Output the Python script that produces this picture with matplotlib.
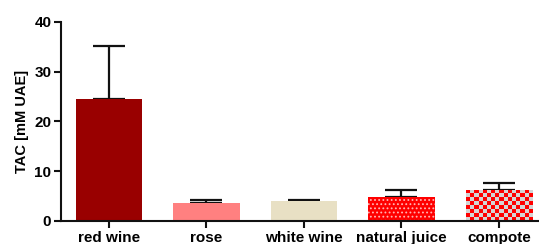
import matplotlib
matplotlib.use("Agg")
import matplotlib.pyplot as plt
import numpy as np

categories = ["red wine", "rose", "white wine", "natural juice", "compote"]
tac_mean = [24.6, 3.55, 4.0, 4.9, 6.25]
tac_err = [10.5, 0.6, 0.3, 1.3, 1.35]
colors = ["#990000", "#ff8080", "#e8e0c4", "#ff0000", "#ff0000"]

plt.rcParams["font.family"] = ["Liberation Sans", "DejaVu Sans"]
plt.rcParams["hatch.linewidth"] = 0.8

fig = plt.figure(figsize=(5.39, 2.44), dpi=100)
ax = fig.add_axes([61 / 539, 23 / 244, 1 - 61 / 539, 199 / 244])

x = np.arange(len(categories))
bars = ax.bar(x, tac_mean, width=0.68, color=colors, linewidth=0, zorder=2)
ax.errorbar(x, tac_mean, yerr=[np.zeros(len(x)), tac_err], fmt="none",
            ecolor="#111", elinewidth=1.6, capsize=11.5, capthick=1.6, zorder=1)

# natural juice: red with small pale dots
bars[3].set_hatch("....")
bars[3].set_edgecolor("#ffb4b4")

# compote: red / grey checkerboard clipped to the bar
b = bars[4]
checks = np.indices((8, 16)).sum(axis=0) % 2
cmap = matplotlib.colors.ListedColormap(["#ff0000", "#d4d4d4"])
im = ax.imshow(checks, cmap=cmap, interpolation="nearest", aspect="auto",
               extent=(b.get_x(), b.get_x() + b.get_width(), 0, b.get_height()),
               zorder=2.5)
im.set_clip_path(b)

ax.set_xlim(-0.49, 4.41)
ax.set_ylim(0, 40)
ax.set_yticks([0, 10, 20, 30, 40])
ax.set_xticks(x)
ax.set_xticklabels(categories)
ax.set_ylabel("TAC [mM UAE]", fontsize=10.5, fontweight="bold")
for lab in ax.get_xticklabels() + ax.get_yticklabels():
    lab.set_fontweight("bold")
    lab.set_fontsize(11)
ax.tick_params(width=1.5, length=5, color="#111", pad=2)
for s in ["top", "right"]:
    ax.spines[s].set_visible(False)
for s in ["left", "bottom"]:
    ax.spines[s].set_linewidth(1.5)
    ax.spines[s].set_color("#111")

fig.savefig("out.png", dpi=100)
